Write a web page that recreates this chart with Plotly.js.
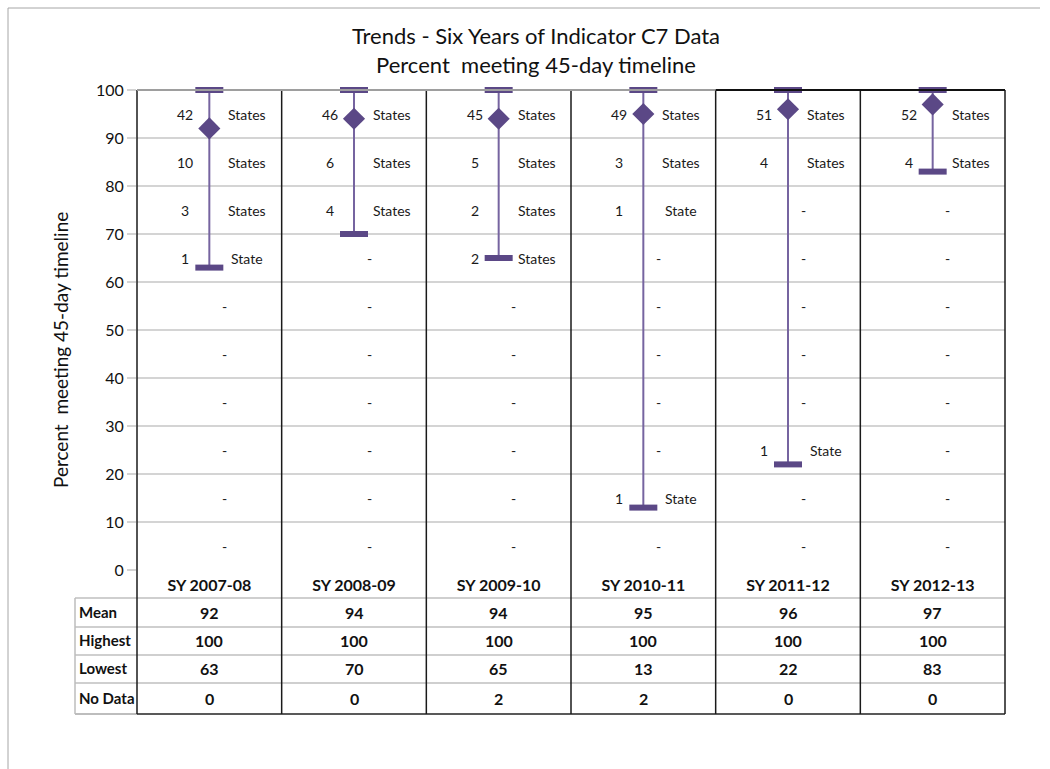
<!DOCTYPE html>
<html>
<head>
<meta charset="utf-8">
<script src="https://cdn.plot.ly/plotly-3.0.1.min.js"></script>
<style>html,body{margin:0;padding:0;background:#fff;}#chart{width:1050px;height:769px;}</style>
</head>
<body>
<div id="chart"></div>
<script>
// ---------- DATA ----------
const schoolYears = ['SY 2007-08','SY 2008-09','SY 2009-10','SY 2010-11','SY 2011-12','SY 2012-13'];
const meanValues = [92, 94, 94, 95, 96, 97];
const highestValues = [100, 100, 100, 100, 100, 100];
const lowestValues = [63, 70, 65, 13, 22, 83];
const noDataValues = [0, 0, 2, 2, 0, 0];
const binCenters = [95, 85, 75, 65, 55, 45, 35, 25, 15, 5];
const countsSY0708 = [42, 10, 3, 1, 0, 0, 0, 0, 0, 0];
const countsSY0809 = [46, 6, 4, 0, 0, 0, 0, 0, 0, 0];
const countsSY0910 = [45, 5, 2, 2, 0, 0, 0, 0, 0, 0];
const countsSY1011 = [49, 3, 1, 0, 0, 0, 0, 0, 1, 0];
const countsSY1112 = [51, 4, 0, 0, 0, 0, 0, 1, 0, 0];
const countsSY1213 = [52, 4, 0, 0, 0, 0, 0, 0, 0, 0];
const tableRowLabels = ['Mean', 'Highest', 'Lowest', 'No Data'];

// ---------- LAYOUT CONSTANTS ----------
const L = 137, R = 1005, T = 90, B = 570;
const W = R - L, H = B - T;
const px = p => (p - L) / W;
const py = p => (B - p) / H;
const FONT = 'Lato, "Open Sans", sans-serif';
const PURPLE = '#5b4886';
const LINEPURPLE = '#7664a0';

const idx = schoolYears.map((_, i) => i);
const allCounts = [countsSY0708, countsSY0809, countsSY0910, countsSY1011, countsSY1112, countsSY1213];

// range line segments
const segX = [], segY = [];
idx.forEach(i => { segX.push(i, i, null); segY.push(lowestValues[i], highestValues[i], null); });

const traces = [
  {x: segX, y: segY, mode: 'lines', type: 'scatter', line: {color: LINEPURPLE, width: 2},
   hoverinfo: 'skip', showlegend: false, cliponaxis: false},
  {x: idx, y: highestValues, mode: 'markers', type: 'scatter', name: 'Highest',
   marker: {symbol: 'line-ew', size: 20, color: PURPLE, line: {color: PURPLE, width: 6}},
   showlegend: false, cliponaxis: false},
  {x: idx, y: lowestValues, mode: 'markers', type: 'scatter', name: 'Lowest',
   marker: {symbol: 'line-ew', size: 20, color: PURPLE, line: {color: PURPLE, width: 6}},
   showlegend: false, cliponaxis: false},
  {x: idx, y: meanValues, mode: 'markers', type: 'scatter', name: 'Mean',
   marker: {symbol: 'diamond', size: 17, color: PURPLE},
   showlegend: false, cliponaxis: false}
];

// ---------- ANNOTATIONS ----------
const annotations = [];
const tf = {family: FONT, size: 14, color: '#1a1a1a'};
allCounts.forEach((counts, i) => {
  counts.forEach((c, k) => {
    if (c > 0) {
      annotations.push({xref: 'x', yref: 'y', x: i, y: binCenters[k], text: String(c),
        showarrow: false, xanchor: 'center', yanchor: 'middle', xshift: -24, font: tf});
      annotations.push({xref: 'x', yref: 'y', x: i, y: binCenters[k], text: c === 1 ? 'State' : 'States',
        showarrow: false, xanchor: 'center', yanchor: 'middle', xshift: 38, font: tf});
    } else {
      annotations.push({xref: 'x', yref: 'y', x: i, y: binCenters[k], text: '-',
        showarrow: false, xanchor: 'center', yanchor: 'middle', xshift: 15, font: tf});
    }
  });
});

// table
const rowCenters = [612, 640, 668, 698];
const rowData = [meanValues, highestValues, lowestValues, noDataValues];
tableRowLabels.forEach((lab, r) => {
  annotations.push({xref: 'paper', yref: 'paper', x: px(77), y: py(rowCenters[r]), xanchor: 'left', yanchor: 'middle',
    text: '<b>' + lab + '</b>', showarrow: false, font: {family: FONT, size: 15, color: '#111'}});
  rowData[r].forEach((v, i) => {
    annotations.push({xref: 'x', yref: 'paper', x: i, y: py(rowCenters[r]), xanchor: 'center', yanchor: 'middle',
      text: '<b>' + v + '</b>', showarrow: false, font: {family: FONT, size: 16, color: '#111'}});
  });
});

// y-axis title
annotations.push({xref: 'paper', yref: 'paper', x: px(60), y: py(350), xanchor: 'center', yanchor: 'middle',
  textangle: -90, text: 'Percent  meeting 45-day timeline', showarrow: false,
  font: {family: FONT, size: 19, color: '#111'}});

// ---------- SHAPES ----------
const shapes = [];
const line = (x0, y0, x1, y1, color, width) => shapes.push({type: 'line', xref: 'paper', yref: 'paper',
  x0, y0, x1, y1, line: {color, width}, layer: 'above'});
// outer frame
line(px(8), py(8), px(1040), py(8), '#a6a6a6', 1);
line(px(8), py(8), px(8), py(775), '#a6a6a6', 1);
// table horizontal lines
[598, 627, 655, 683].forEach(p => line(px(75), py(p), 1, py(p), '#cfcfcf', 2));
line(px(75), py(714), 0, py(714), '#bdbdbd', 2);
line(px(75), py(598), px(75), py(714), '#bdbdbd', 1.5);
line(0, py(714), 1, py(714), '#222', 1.5);
// column dividers
for (let k = 0; k <= schoolYears.length; k++) {
  line(k / schoolYears.length, 1, k / schoolYears.length, py(714), '#1a1a1a', 1.5);
}
// top border
line(0, 1, 4 / 6, 1, '#9e9e9e', 2);
line(4 / 6, 1, 1, 1, '#111', 2);

const layout = {
  width: 1050, height: 769,
  margin: {l: L, r: 1050 - R, t: T, b: 769 - B, pad: 0},
  paper_bgcolor: '#fff', plot_bgcolor: '#fff',
  font: {family: FONT, color: '#111'},
  title: {text: 'Trends - Six Years of Indicator C7 Data<br>Percent  meeting 45-day timeline',
    x: 536 / 1050, xref: 'container', xanchor: 'center', y: 1 - 44 / 769, yref: 'container', yanchor: 'middle',
    font: {family: FONT, size: 22, color: '#111'}},
  xaxis: {range: [-0.5, 5.5], tickvals: idx, ticktext: schoolYears.map(s => '<b>' + s + '</b>'),
    showgrid: false, zeroline: false, showline: false, ticks: '', ticklabelstandoff: 4,
    tickfont: {family: FONT, size: 16, color: '#111'}, fixedrange: true},
  yaxis: {range: [0, 100], dtick: 10, showgrid: true, gridcolor: '#d4d4d4', gridwidth: 1.5,
    zeroline: false, showline: false, ticks: 'outside', ticklen: 9, tickcolor: '#d4d4d4', tickwidth: 1.5,
    tickfont: {family: FONT, size: 16, color: '#111'}, fixedrange: true},
  annotations, shapes,
  hovermode: false
};

Plotly.newPlot('chart', traces, layout, {displayModeBar: false, staticPlot: true});
</script>
</body>
</html>
